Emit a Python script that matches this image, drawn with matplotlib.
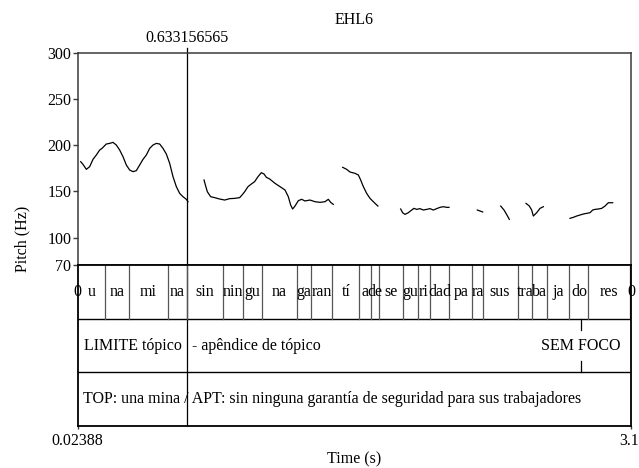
import matplotlib.pyplot as plt

plt.rcParams['font.family'] = ['Liberation Serif', 'DejaVu Serif']
plt.rcParams['font.size'] = 11.5

# time range and cursor
t_start = 0.02388
t_end = 3.1
cursor_t = 0.633156565

# pitch contour segments (s, Hz)
seg1_t = [0.0404, 0.0533, 0.0719, 0.0904, 0.1089, 0.1274, 0.1460, 0.1590, 0.1830, 0.2016,
          0.2201, 0.2386, 0.2572, 0.2757, 0.2942, 0.3128, 0.3313, 0.3498, 0.3684, 0.3869,
          0.4054, 0.4240, 0.4425, 0.4610, 0.4796, 0.4981, 0.5166, 0.5352, 0.5537, 0.5722,
          0.5908, 0.6093, 0.6278, 0.6371]
seg1_hz = [182.1, 179.2, 173.8, 176.7, 184.6, 189.3, 194.7, 196.5, 201.2, 201.9,
           203.0, 200.1, 194.7, 187.5, 178.5, 173.1, 171.3, 172.4, 178.5, 184.6,
           189.3, 196.5, 200.1, 201.9, 201.2, 196.5, 190.4, 180.3, 165.9, 155.1,
           147.8, 144.2, 141.4, 138.8]

seg2_t = [0.7261, 0.7353, 0.7446, 0.7631, 0.7854, 0.8132, 0.8410, 0.8688, 0.8965, 0.9243,
          0.9373, 0.9521, 0.9707, 0.9892, 1.0077, 1.0263, 1.0448, 1.0596, 1.0726, 1.0911,
          1.1207, 1.1485, 1.1763, 1.1948, 1.2078, 1.2189, 1.2319, 1.2504, 1.2690, 1.2875,
          1.3153, 1.3431, 1.3709, 1.3987, 1.4172, 1.4302, 1.4450]
seg2_hz = [162.3, 155.8, 149.6, 144.2, 143.2, 141.7, 140.6, 142.1, 142.4, 143.2,
           146.0, 149.6, 155.1, 157.9, 160.5, 165.9, 170.2, 168.8, 165.2, 163.4,
           158.7, 155.1, 151.5, 144.2, 135.2, 130.9, 134.1, 139.9, 141.4, 139.6,
           140.6, 138.8, 138.1, 138.8, 141.4, 138.1, 135.9]

seg3_t = [1.4970, 1.5193, 1.5378, 1.5656, 1.5841, 1.5971, 1.6119, 1.6305, 1.6490, 1.6768, 1.6929]
seg3_hz = [176.0, 173.8, 170.9, 169.5, 167.7, 162.3, 155.1, 147.8, 142.4, 137.0, 134.1]

seg4_t = [1.8194, 1.8305, 1.8435, 1.8620, 1.8806, 1.8935, 1.9084, 1.9269, 1.9454, 1.9640,
          1.9825, 2.0010, 2.0196, 2.0381, 2.0566, 2.0752, 2.0881]
seg4_hz = [130.9, 126.9, 125.1, 126.9, 129.8, 131.6, 130.5, 131.3, 129.8, 130.5,
           131.3, 129.8, 131.3, 132.7, 133.4, 132.7, 132.7]

seg5_t = [2.2456, 2.2753]
seg5_hz = [129.8, 127.7]

seg6_t = [2.3755, 2.3940, 2.4051, 2.4236]
seg6_hz = [134.1, 129.8, 126.2, 119.7]

seg7_t = [2.5163, 2.5348, 2.5478, 2.5571, 2.5756, 2.5941, 2.6127]
seg7_hz = [137.0, 134.1, 129.8, 123.3, 126.9, 131.6, 133.4]

seg8_t = [2.7609, 2.7794, 2.7979, 2.8165, 2.8350, 2.8535, 2.8721, 2.8869, 2.8999, 2.9184,
          2.9370, 2.9555, 2.9740, 2.9982]
seg8_hz = [120.8, 121.9, 123.3, 124.4, 125.5, 126.2, 126.9, 129.8, 130.5, 130.9,
           131.6, 134.1, 137.7, 137.7]

pitch_segments = [(seg1_t, seg1_hz), (seg2_t, seg2_hz), (seg3_t, seg3_hz), (seg4_t, seg4_hz),
                  (seg5_t, seg5_hz), (seg6_t, seg6_hz), (seg7_t, seg7_hz), (seg8_t, seg8_hz)]

pitch_ticks = [70, 100, 150, 200, 250, 300]

# syllable tier
syl_bounds = [t_start, 0.1773, 0.3091, 0.5242, cursor_t, 0.8300, 0.9412, 1.0469, 1.2414,
              1.3193, 1.4394, 1.5895, 1.6545, 1.7007, 1.8341, 1.9142, 1.9842, 2.0882,
              2.2188, 2.2755, 2.4690, 2.5513, 2.6347, 2.7570, 2.8637, 3.0917]
syl_labels = ["u", "na", "mi", "na", "sin", "nin", "gu", "na", "ga", "ran", "tí", "a", "de",
              "se", "gu", "ri", "dad", "pa", "ra", "sus", "tra", "ba", "ja", "do", "res"]

# second and third tiers
limite_label = "LIMITE tópico"
apendice_label = "- apêndice de tópico"
foco_t = 2.8193
foco_label = "SEM FOCO"
top_label = "TOP: una mina / APT: sin ninguna garantía de seguridad para sus trabajadores"

W, H = 639, 468
fig = plt.figure(figsize=(W / 100, H / 100), dpi=100)

x0, x1 = 77.7, 631
y_top, y_70, y_bot = 52.7, 265.3, 426

ax = fig.add_axes([x0 / W, 1 - y_70 / H, (x1 - x0) / W, (y_70 - y_top) / H])
tx = fig.add_axes([x0 / W, 1 - y_bot / H, (x1 - x0) / W, (y_bot - y_70) / H])

frame_col = '#3a3a3a'

for t, hz in pitch_segments:
    ax.plot(t, hz, color='black', lw=0.9)

ax.set_xlim(t_start, t_end)
ax.set_ylim(70, 300)
ax.set_xticks([])
ax.set_yticks(pitch_ticks)
ax.tick_params(axis='y', direction='out', length=3.5, width=1, pad=1, color=frame_col)
for s in ax.spines.values():
    s.set_color(frame_col)
    s.set_linewidth(1.1)

# cursor
ax.plot([cursor_t, cursor_t], [70, 304.8], color='black', lw=0.9, clip_on=False)
ax.text(cursor_t, 315.6, f"{cursor_t}", ha='center', va='center')

# tiers
tx.set_xlim(t_start, t_end)
tx.set_ylim(0, 3)
tx.set_yticks([])
tx.set_xticks([t_start, t_end])
tx.set_xticklabels([])
tx.tick_params(axis='x', direction='out', length=2, width=1, color=frame_col)
for s in tx.spines.values():
    s.set_color('black')
    s.set_linewidth(1.3)

tx.annotate("0.02388", xy=(t_start, 0), xytext=(0, -10.6), textcoords='offset points',
            ha='center', va='center', annotation_clip=False)
tx.annotate("3.1", xy=(t_end, 0), xytext=(-1.5, -10.6), textcoords='offset points',
            ha='center', va='center', annotation_clip=False)

tx.axhline(2, color='black', lw=1.0)
tx.axhline(1, color='black', lw=1.0)
tx.axvline(cursor_t, color='black', lw=0.9)

for b in syl_bounds[1:]:
    tx.plot([b, b], [2, 3], color='#555555', lw=0.9)
for i, lab in enumerate(syl_labels):
    mid = (syl_bounds[i] + syl_bounds[i + 1]) / 2
    tx.text(mid, 2.5, lab, ha='center', va='center')
tx.text(t_start, 2.5, "0", ha='center', va='center', clip_on=False)
tx.text(t_end, 2.5, "0", ha='center', va='center', clip_on=False)

tx.text((t_start + cursor_t) / 2, 1.5, limite_label, ha='center', va='center')
tx.text(cursor_t + 0.025, 1.5, apendice_label, ha='left', va='center')
tx.plot([foco_t, foco_t], [2, 1.79], color='black', lw=0.9)
tx.plot([foco_t, foco_t], [1, 1.21], color='black', lw=0.9)
tx.text(foco_t, 1.5, foco_label, ha='center', va='center')

tx.text(t_start + 0.031, 0.5, top_label, ha='left', va='center')

fig.text(354.3 / W, 1 - 20 / H, "EHL6", ha='center', va='center')
fig.text(22 / W, 1 - 239.3 / H, "Pitch (Hz)", rotation=90, ha='center', va='center')
fig.text(354.3 / W, 1 - 459 / H, "Time (s)", ha='center', va='center')

fig.savefig("out.png", dpi=100)
